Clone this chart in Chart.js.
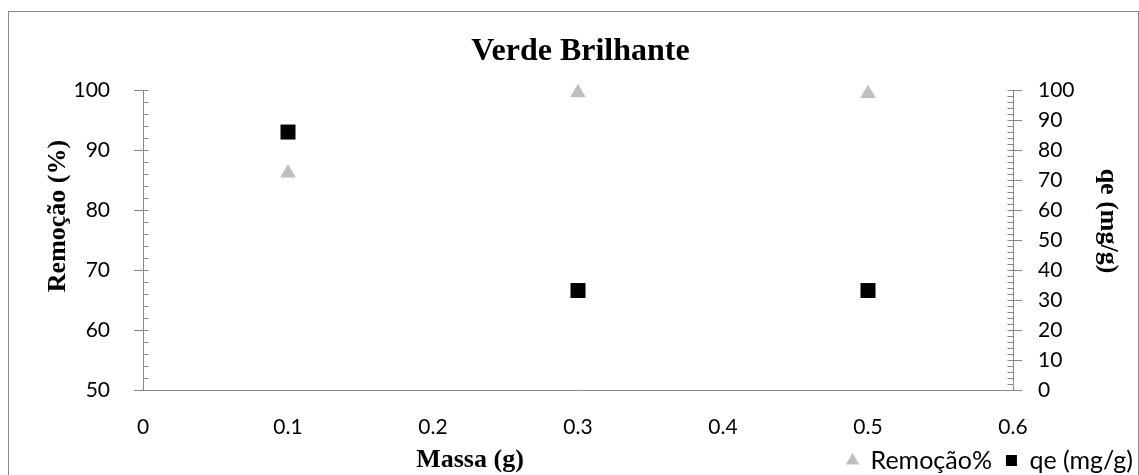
<!DOCTYPE html>
<html><head><meta charset="utf-8">
<script src="https://cdn.jsdelivr.net/npm/chart.js@4.4.1/dist/chart.umd.min.js"></script>
<style>html,body{margin:0;padding:0;background:#fff;}</style>
</head><body>
<canvas id="c" width="1139" height="475"></canvas>
<script>
// ---- data ----
const chartTitle = 'Verde Brilhante';
const massa = [0.1, 0.3, 0.5];
const remocao = [86.2, 99.6, 99.5];
const qe = [86.1, 33.2, 33.2];
const seriesNames = ['Remoção%', 'qe (mg/g)'];
const xTitle = 'Massa (g)';
const yLeftTitle = 'Remoção (%)';
const yRightTitle = 'qe (mg/g)';

const AXIS = '#898989';
const TICKFONT = {family: 'Lato', size: 21};
const TITLEFONT = 'bold 26px "Liberation Serif"';
const PLOT_BOTTOM = 390;
const PAD = {top: 0, left: 14, right: -8, bottom: -8};

const decor = {
  id: 'decor',
  beforeDraw(chart) {
    const ctx = chart.ctx;
    ctx.save();
    ctx.fillStyle = '#fff';
    ctx.fillRect(0, 0, chart.width, chart.height);
    ctx.strokeStyle = AXIS;
    ctx.lineWidth = 1;
    ctx.strokeRect(8.5, 11.5, 1130, 480);
    ctx.restore();
  },
  afterDraw(chart) {
    const ctx = chart.ctx;
    const yl = chart.scales.y, yr = chart.scales.y2, xs = chart.scales.x;
    ctx.save();
    ctx.strokeStyle = AXIS;
    ctx.lineWidth = 1;
    const xl = Math.round(xs.left) + 0.5;
    for (let v = yl.min; v <= yl.max + 1e-9; v += 2) {
      const p = Math.round(yl.getPixelForValue(v)) + 0.5;
      ctx.beginPath(); ctx.moveTo(xl, p); ctx.lineTo(xl + 5, p); ctx.stroke();
    }
    const xr = Math.round(xs.right) + 0.5;
    for (let v = yr.min; v <= yr.max + 1e-9; v += 2) {
      const p = Math.round(yr.getPixelForValue(v)) + 0.5;
      ctx.beginPath(); ctx.moveTo(xr, p); ctx.lineTo(xr - 6, p); ctx.stroke();
    }
    // axis titles
    ctx.fillStyle = '#000';
    ctx.font = TITLEFONT;
    ctx.textAlign = 'center';
    ctx.textBaseline = 'middle';
    ctx.fillText(xTitle, 470, 460);
    ctx.save();
    ctx.translate(58, 216); ctx.rotate(-Math.PI / 2);
    ctx.fillText(yLeftTitle, 0, 0);
    ctx.restore();
    ctx.save();
    ctx.translate(1108, 221); ctx.rotate(Math.PI / 2);
    ctx.fillText(yRightTitle, 0, 0);
    ctx.restore();
    ctx.restore();
  }
};

new Chart(document.getElementById('c'), {
  type: 'scatter',
  data: {
    datasets: [
      {label: seriesNames[0], data: massa.map((x, i) => ({x, y: remocao[i]})), yAxisID: 'y',
       pointStyle: 'triangle', pointRadius: 9, pointHoverRadius: 9,
       backgroundColor: '#BFBFBF', borderColor: '#BFBFBF', borderWidth: 0, clip: false},
      {label: seriesNames[1], data: massa.map((x, i) => ({x, y: qe[i]})), yAxisID: 'y2',
       pointStyle: 'rect', pointRadius: 10.6, pointHoverRadius: 10.6,
       backgroundColor: '#000000', borderColor: '#000000', borderWidth: 0, clip: false}
    ]
  },
  options: {
    responsive: false, animation: false, devicePixelRatio: 1,
    layout: {padding: PAD},
    plugins: {
      title: {display: true, text: chartTitle, color: '#000',
        font: {family: '"Liberation Serif"', size: 32, weight: 'bold'},
        padding: {top: 33, bottom: 19}},
      legend: {position: 'bottom', align: 'end',
        labels: {usePointStyle: true, boxWidth: 11, boxHeight: 11, color: '#000',
          font: {family: 'Lato', size: 25}, padding: 14}},
      tooltip: {enabled: false}
    },
    scales: {
      x: {type: 'linear', min: 0, max: 0.6,
        ticks: {stepSize: 0.1, font: TICKFONT, color: '#000', padding: 25},
        grid: {display: false, drawTicks: false},
        border: {display: true, color: AXIS, width: 1},
        afterFit(s) {
          const lh = (s.chart.legend && s.chart.legend.height) || 0;
          s.height = s.chart.height - PAD.bottom - lh - PLOT_BOTTOM;
        }},
      y: {position: 'left', min: 50, max: 100,
        ticks: {stepSize: 10, font: TICKFONT, color: '#000', padding: 24, autoSkip: false},
        grid: {drawOnChartArea: false, drawTicks: true, tickLength: 9, color: AXIS},
        border: {display: true, color: AXIS, width: 1},
        afterFit(s) { s.width = 143 - PAD.left; }},
      y2: {position: 'right', min: 0, max: 100,
        ticks: {stepSize: 10, font: TICKFONT, color: '#000', padding: 16, autoSkip: false},
        grid: {drawOnChartArea: false, drawTicks: true, tickLength: 9, color: AXIS},
        border: {display: true, color: AXIS, width: 1},
        afterFit(s) { s.width = 126 - PAD.right; }}
    }
  },
  plugins: [decor]
});
</script>
</body></html>
